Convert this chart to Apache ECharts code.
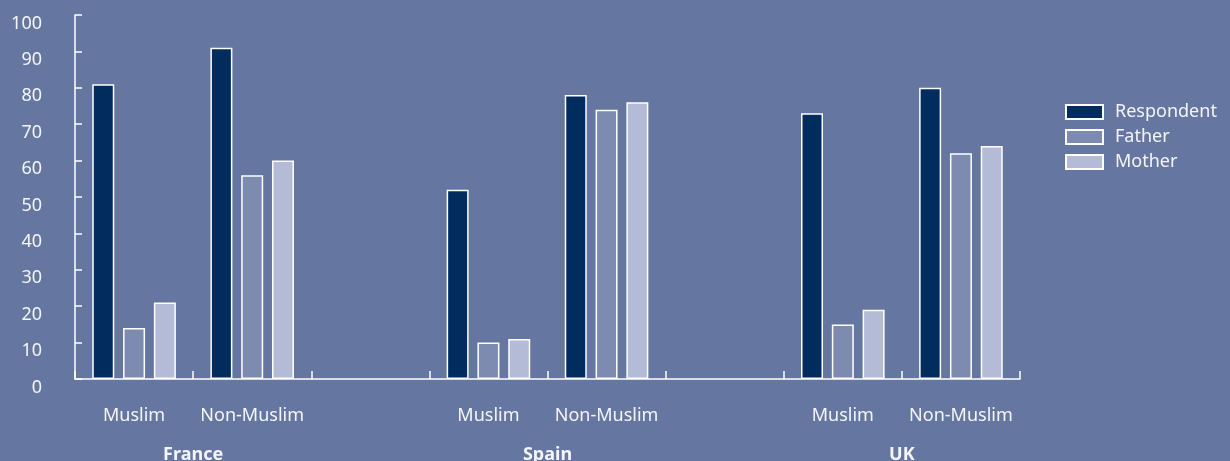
<!DOCTYPE html>
<html>
<head>
<meta charset="utf-8">
<script src="https://cdn.jsdelivr.net/npm/echarts@6/dist/echarts.min.js"></script>
<style>
  html, body { margin: 0; padding: 0; background: #6577a0; }
  #chart { width: 1230px; height: 461px; }
</style>
</head>
<body>
<div id="chart"></div>
<script>
// 数据
const categories = ['Muslim', 'Non-Muslim', '', 'Muslim', 'Non-Muslim', '', 'Muslim', 'Non-Muslim']
const countries = ['', 'France', '', '', 'Spain', '', '', 'UK', '']
const respondent = [81, 91, '-', 52, 78, '-', 73, 80]
const father = [14, 56, '-', 10, 74, '-', 15, 62]
const mother = [21, 60, '-', 11, 76, '-', 19, 64]
const yTicks = [0, 100, 10]

const chart = echarts.init(document.getElementById('chart'))
const textColor = '#f4f5f8'
const font = 'Noto Sans'

const barSeries = (name, data, color) => ({
  name: name,
  type: 'bar',
  data: data,
  barWidth: 22,
  barGap: '40%',
  itemStyle: {
    color: color,
    borderColor: '#ffffff',
    borderWidth: 1.5
  }
})

chart.setOption({
  backgroundColor: '#6577a0',
  animation: false,
  textStyle: { fontFamily: font },
  legend: {
    orient: 'vertical',
    left: 1065,
    top: 103,
    padding: 0,
    itemWidth: 37,
    itemHeight: 14,
    itemGap: 7,
    icon: 'rect',
    textStyle: { color: textColor, fontSize: 18, fontFamily: font, padding: [0, 0, 0, 7] },
    data: ['Respondent', 'Father', 'Mother']
  },
  grid: {
    left: 75,
    right: 210,
    top: 15,
    bottom: 82,
    outerBoundsMode: 'none'
  },
  xAxis: [
    {
      type: 'category',
      data: categories,
      axisLine: { lineStyle: { color: '#ffffff', width: 1.5 } },
      axisTick: { show: true, inside: true, length: 8, lineStyle: { color: '#ffffff', width: 1.5 } },
      axisLabel: { color: textColor, fontSize: 18, margin: 28, interval: 0, fontFamily: font }
    },
    {
      type: 'category',
      position: 'bottom',
      data: countries,
      boundaryGap: false,
      axisLine: { show: false },
      axisTick: { show: false },
      axisLabel: { color: textColor, fontSize: 18, fontWeight: 'bold', margin: 67, interval: 0, fontFamily: font }
    }
  ],
  yAxis: {
    type: 'value',
    min: yTicks[0],
    max: yTicks[1],
    interval: yTicks[2],
    splitLine: { show: false },
    axisLine: { show: true, lineStyle: { color: '#ffffff', width: 1.5 } },
    axisTick: { show: true, inside: true, length: 7, lineStyle: { color: '#ffffff', width: 1.5 } },
    axisLabel: { color: textColor, fontSize: 18, margin: 33, verticalAlign: 'top', lineHeight: 17, fontFamily: font }
  },
  series: [
    barSeries('Respondent', respondent, '#002c5e'),
    barSeries('Father', father, '#7d8bb0'),
    barSeries('Mother', mother, '#b3bbd6')
  ]
})
</script>
</body>
</html>
